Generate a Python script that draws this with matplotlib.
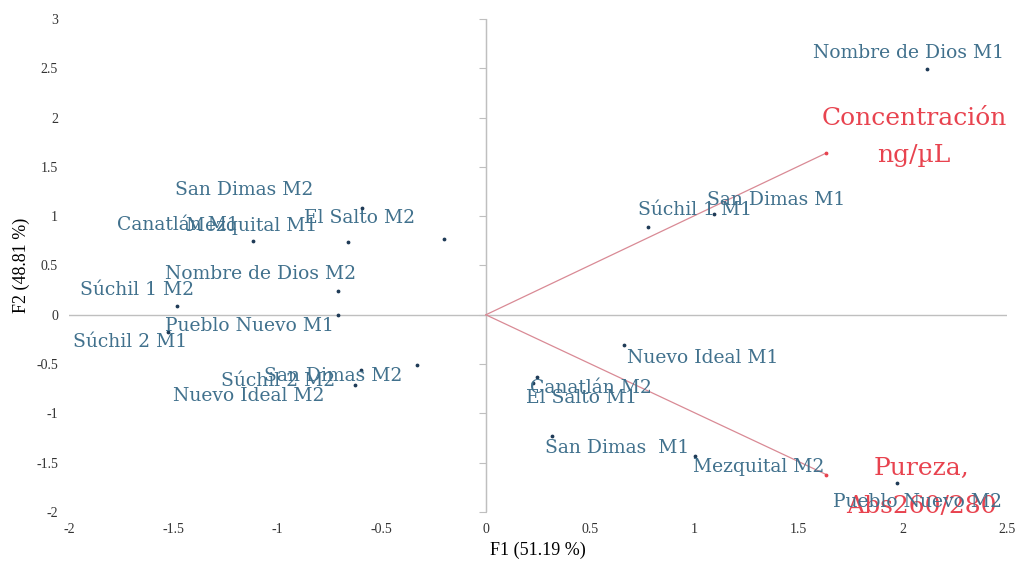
import matplotlib
matplotlib.use("Agg")
import matplotlib.pyplot as plt
import numpy as np

# observaciones (F1, F2)
labels = [
    "Nombre de Dios M1", "Súchil 1 M1", "San Dimas M1", "Nuevo Ideal M1",
    "Canatlán M2", "El Salto M1", "San Dimas  M1", "Mezquital M2",
    "Pueblo Nuevo M2", "San Dimas M2", "Canatlán M1", "Mezquital M1",
    "El Salto M2", "Nombre de Dios M2", "Súchil 1 M2", "Pueblo Nuevo M1",
    "Súchil 2 M1", "San Dimas M2", "Súchil 2 M2", "Nuevo Ideal M2",
]
f1 = [2.115, 0.778, 1.094, 0.664, 0.245, 0.226, 0.317, 1.003, 1.972,
      -0.595, -1.117, -0.662, -0.202, -0.709, -1.480, -0.709,
      -1.525, -0.328, -0.597, -0.629]
f2 = [2.492, 0.887, 1.024, -0.304, -0.629, -0.690, -1.227, -1.430, -1.704,
      1.088, 0.750, 0.737, 0.764, 0.243, 0.085, -0.007,
      -0.172, -0.507, -0.558, -0.710]

# variables (vectores)
var_labels = ["Concentración\nng/µL", "Pureza,\nAbs260/280"]
var_f1 = [1.633, 1.633]
var_f2 = [1.640, -1.620]

xlim = (-2, 2.5)
ylim = (-2, 3)
ticks_x = [-2, -1.5, -1, -0.5, 0, 0.5, 1, 1.5, 2, 2.5]
ticks_y = [-2, -1.5, -1, -0.5, 0, 0.5, 1, 1.5, 2, 2.5, 3]

# desplazamiento de etiquetas en pixeles (x, y)
offs = [(-18, 16), (47, 17), (62, 14), (78, -13), (54, -11), (49, -15),
        (65, -12), (64, -11), (21, -19), (-118, 18), (-75, 16), (-96, 16),
        (-84, 21), (-78, 17), (-40, 16), (-89, -11), (-38, -10), (-84, -11),
        (-83, -11), (-106, -11)]
var_offs = [(88, 16), (95, -13)]

fig = plt.figure(figsize=(10.15, 5.67), dpi=100)
ax = fig.add_axes([0.068, 0.097, 0.924, 0.8695])
ax.set_xlim(xlim)
ax.set_ylim(ylim)
for s in ax.spines.values():
    s.set_visible(False)

gray = "#BFBFBF"
ax.axhline(0, color=gray, lw=1, zorder=1)
ax.axvline(0, color=gray, lw=1, zorder=1)
ax.set_xticks(ticks_x)
ax.set_yticks(ticks_y)
ax.set_xticklabels([f"{t:g}" for t in ticks_x])
ax.set_yticklabels([f"{t:g}" for t in ticks_y])
ax.tick_params(length=0, labelsize=10, pad=8)
for t in ax.get_xticklabels() + ax.get_yticklabels():
    t.set_family("Liberation Serif")
    t.set_color("#333333")

# marcas sobre el eje vertical
sec = ax.secondary_yaxis((0 - xlim[0]) / (xlim[1] - xlim[0]))
sec.set_yticks(ticks_y)
sec.tick_params(length=5, color=gray, labelleft=False)
sec.spines["left"].set_color(gray)
sec.set_yticklabels([])

ax.set_xlabel("F1 (51.19 %)", family="Liberation Serif", fontsize=13, labelpad=4)
ax.set_ylabel("F2 (48.81 %)", family="Liberation Serif", fontsize=13, labelpad=4)

red = "#E8434F"
for vx, vy in zip(var_f1, var_f2):
    ax.plot([0, vx], [0, vy], color="#D98A95", lw=0.9, zorder=2)
ax.scatter(var_f1, var_f2, s=3, color=red, zorder=3)
for lab, vx, vy, o in zip(var_labels, var_f1, var_f2, var_offs):
    ax.annotate(lab, (vx, vy), xytext=o, textcoords="offset pixels",
                ha="center", va="center", color=red, fontsize=18,
                family="DejaVu Serif", linespacing=1.8, zorder=4)

ax.scatter(f1, f2, s=3, color="#1F3B57", zorder=3)
blue = "#41718D"
for lab, x, y, o in zip(labels, f1, f2, offs):
    ax.annotate(lab, (x, y), xytext=o, textcoords="offset pixels",
                ha="center", va="center", color=blue, fontsize=13.5,
                family="DejaVu Serif", zorder=4)

fig.savefig("out.png", dpi=100)
